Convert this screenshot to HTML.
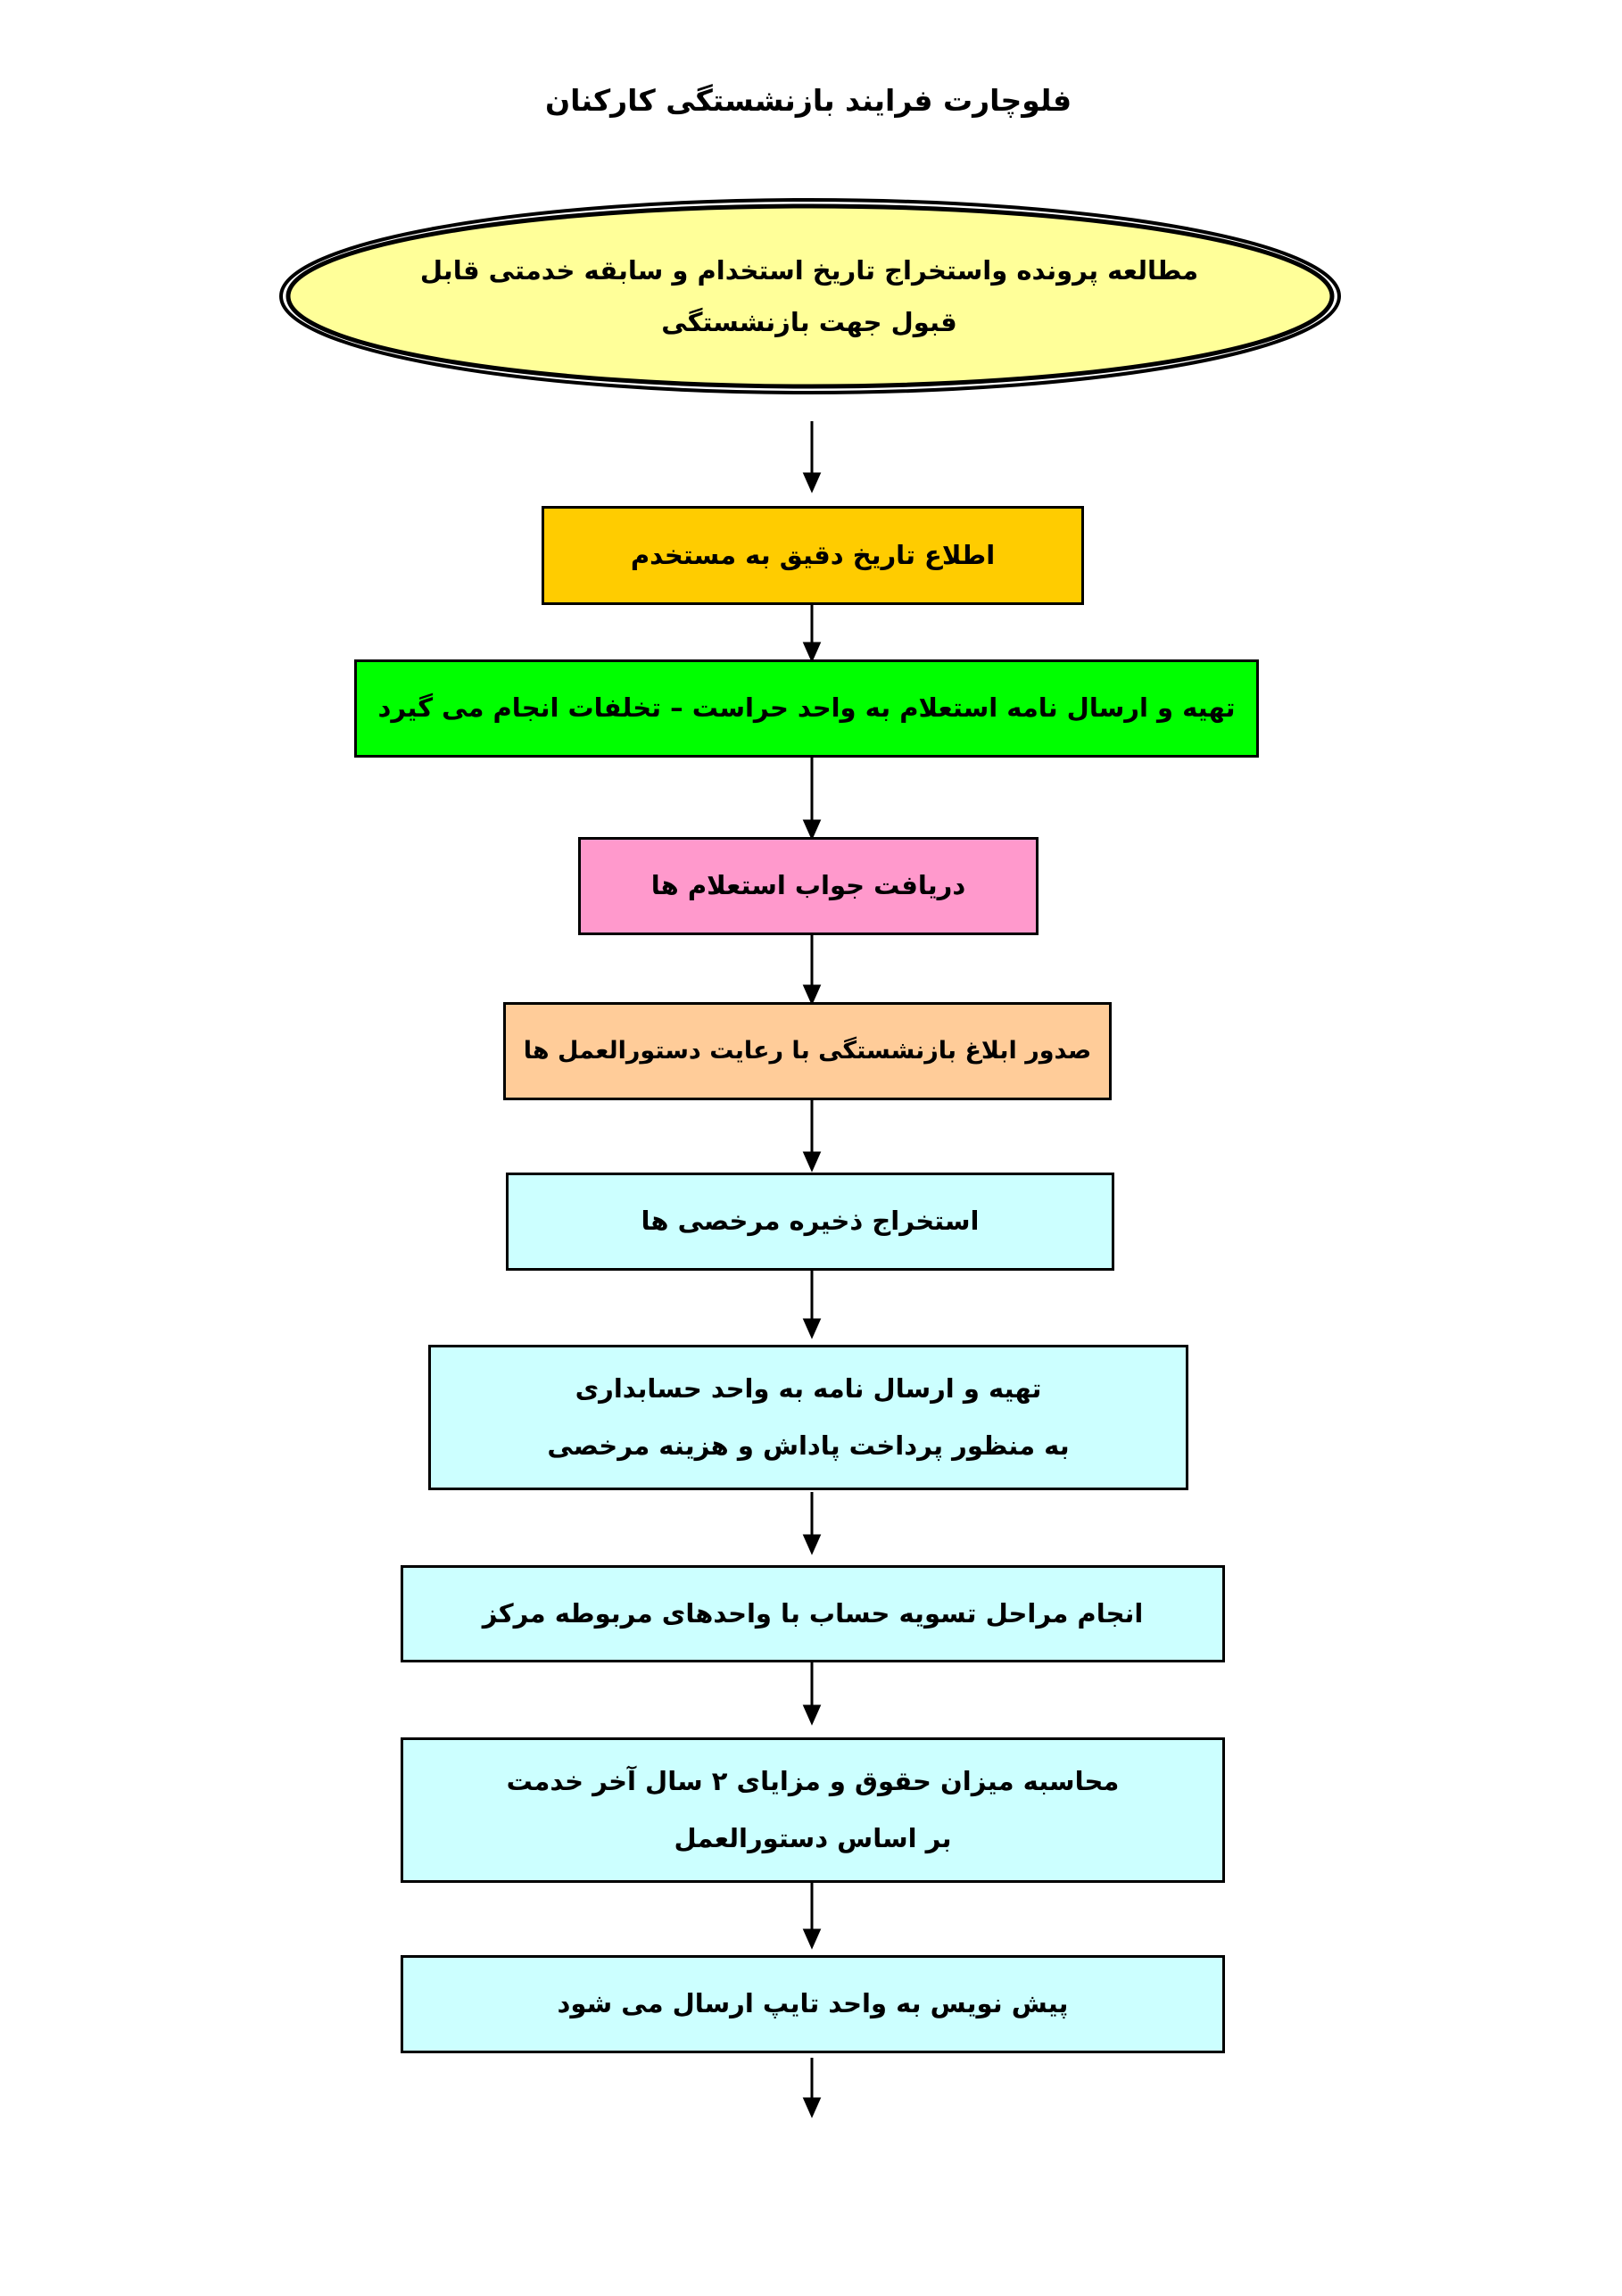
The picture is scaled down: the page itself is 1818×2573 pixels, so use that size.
<!DOCTYPE html>
<html><head><meta charset="utf-8"><style>
body{margin:0;width:1818px;height:2573px;background:#fff;position:relative;font-family:"DejaVu Sans","Liberation Sans",sans-serif;font-weight:bold;overflow:hidden}
.w{position:absolute;left:-3px;top:-3px;width:1818px;height:2573px}
.b{position:absolute;border:3px solid #000;box-sizing:border-box;display:flex;flex-direction:column;align-items:center;justify-content:center;direction:rtl;font-size:29px;color:#000;line-height:1.9;white-space:nowrap}
.t{position:absolute;left:0;width:1818px;text-align:center;direction:rtl;font-size:33px;top:96px}
</style></head><body><div class="w">
<div class="t">فلوچارت فرایند بازنشستگی کارکنان</div>
<svg width="1818" height="2573" style="position:absolute;left:0;top:0">
<ellipse cx="911" cy="335" rx="593" ry="108" fill="none" stroke="#000" stroke-width="4"/>
<ellipse cx="911" cy="335" rx="585" ry="101" fill="#FFFF99" stroke="#000" stroke-width="5"/>
<g stroke="#000" stroke-width="3" fill="#000">
<line x1="913" y1="475" x2="913" y2="540"/><polygon points="905,534 921,534 913,552"/>
<line x1="913" y1="681" x2="913" y2="730"/><polygon points="905,724 921,724 913,742"/>
<line x1="913" y1="852" x2="913" y2="929"/><polygon points="905,923 921,923 913,941"/>
<line x1="913" y1="1051" x2="913" y2="1114"/><polygon points="905,1108 921,1108 913,1126"/>
<line x1="913" y1="1236" x2="913" y2="1301"/><polygon points="905,1295 921,1295 913,1313"/>
<line x1="913" y1="1427" x2="913" y2="1488"/><polygon points="905,1482 921,1482 913,1500"/>
<line x1="913" y1="1675" x2="913" y2="1730"/><polygon points="905,1724 921,1724 913,1742"/>
<line x1="913" y1="1866" x2="913" y2="1921"/><polygon points="905,1915 921,1915 913,1933"/>
<line x1="913" y1="2113" x2="913" y2="2172"/><polygon points="905,2166 921,2166 913,2184"/>
<line x1="913" y1="2309" x2="913" y2="2361"/><polygon points="905,2355 921,2355 913,2373"/>
</g></svg>
<div class="b" style="left:400px;top:270px;width:1020px;height:130px;border:none;line-height:2">
<div>مطالعه پرونده واستخراج تاریخ استخدام و سابقه خدمتی قابل</div><div>قبول جهت بازنشستگی</div></div>
<div class="b" style="left:610px;top:570px;width:608px;height:111px;background:#FFCC00">اطلاع تاریخ دقیق به مستخدم</div>
<div class="b" style="left:400px;top:742px;width:1014px;height:110px;background:#00FF00">تهیه و ارسال نامه استعلام به واحد حراست – تخلفات انجام می گیرد</div>
<div class="b" style="left:651px;top:941px;width:516px;height:110px;background:#FF99CC">دریافت جواب استعلام ها</div>
<div class="b" style="left:567px;top:1126px;width:682px;height:110px;background:#FFCC99;font-size:27px">صدور ابلاغ بازنشستگی با رعایت دستورالعمل ها</div>
<div class="b" style="left:570px;top:1317px;width:682px;height:110px;background:#CCFFFF">استخراج ذخیره مرخصی ها</div>
<div class="b" style="left:483px;top:1510px;width:852px;height:163px;background:#CCFFFF;line-height:2.2"><div>تهیه و ارسال نامه به واحد حسابداری</div><div>به منظور پرداخت پاداش و هزینه مرخصی</div></div>
<div class="b" style="left:452px;top:1757px;width:924px;height:109px;background:#CCFFFF">انجام مراحل تسویه حساب با واحدهای مربوطه مرکز</div>
<div class="b" style="left:452px;top:1950px;width:924px;height:163px;background:#CCFFFF;line-height:2.2"><div>محاسبه میزان حقوق و مزایای ۲ سال آخر خدمت</div><div>بر اساس دستورالعمل</div></div>
<div class="b" style="left:452px;top:2194px;width:924px;height:110px;background:#CCFFFF">پیش نویس به واحد تایپ ارسال می شود</div>
</div></body></html>
